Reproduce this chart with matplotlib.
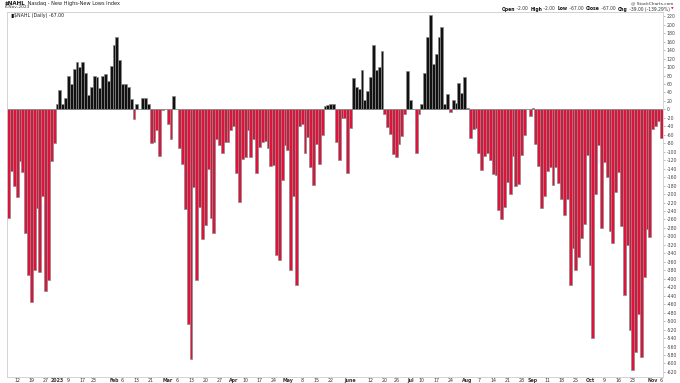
import numpy as np
import pandas as pd
import matplotlib
matplotlib.use("Agg")
import matplotlib.pyplot as plt

# ---- data -------------------------------------------------------------
start_date = "2022-12-07"
end_date = "2023-11-06"
holidays = ["2022-12-26", "2023-01-02", "2023-01-16", "2023-02-20", "2023-04-07",
            "2023-05-29", "2023-06-19", "2023-07-04", "2023-09-04"]

nahl_values = [
    -256, -145, -180, -207, -123, -148, -293, -390, -455, -379,
    -234, -385, -205, -430, -402, -121, -80, 12, 45, 13,
    27, 78, 61, 95, 112, 100, 112, 86, 35, 54,
    78, 76, 51, 78, 84, 68, 102, 151, 170, 117,
    59, 59, 52, 25, -22, 12, 2, 27, 27, 12,
    -80, -77, -49, -109, -2, 2, -34, -69, 31, 0,
    -92, -130, -236, -508, -590, -184, -402, -230, -305, -273,
    -141, -256, -291, -70, -84, -103, -77, -78, -49, -39,
    -151, -219, -116, -113, -48, -112, -70, -151, -90, -78,
    -74, -91, -133, -131, -345, -355, -166, -84, -95, -379,
    -205, -414, -39, -34, -102, -66, -137, -178, -82, -130,
    -61, 8, 10, 12, 13, -78, -120, -20, -20, -151,
    -45, 74, 52, 47, 92, 23, 43, 76, 152, 92,
    100, 137, -10, -41, -59, -105, -112, -82, -62, -12,
    90, 23, 2, -104, -12, 13, 86, 172, 223, 107,
    131, 170, 194, 12, 37, -5, 23, 16, 62, 39,
    77, 4, -68, -47, -43, -102, -142, -109, -102, -119,
    -152, -156, -238, -258, -230, -172, -199, -109, -180, -177,
    -107, -61, 2, -16, 4, -82, -133, -234, -205, -145,
    -135, -178, -135, -174, -212, -250, -211, -414, -327, -380,
    -348, -303, -270, -108, -367, -539, -199, -84, -281, -125,
    -160, -288, -316, -195, -147, -275, -439, -320, -520, -616,
    -574, -483, -584, -395, -283, -301, -47, -40, -28, -67,
]

tick_dates = ["2022-12-12", "2022-12-19", "2022-12-27", "2023-01-03", "2023-01-09",
              "2023-01-17", "2023-01-23", "2023-02-01", "2023-02-06", "2023-02-13",
              "2023-02-21", "2023-03-01", "2023-03-06", "2023-03-13", "2023-03-20",
              "2023-03-27", "2023-04-03", "2023-04-10", "2023-04-17", "2023-04-24",
              "2023-05-01", "2023-05-08", "2023-05-15", "2023-05-22", "2023-06-01",
              "2023-06-12", "2023-06-20", "2023-06-26", "2023-07-03", "2023-07-10",
              "2023-07-17", "2023-07-24", "2023-08-01", "2023-08-07", "2023-08-14",
              "2023-08-21", "2023-08-28", "2023-09-01", "2023-09-11", "2023-09-18",
              "2023-09-25", "2023-10-02", "2023-10-09", "2023-10-16", "2023-10-23",
              "2023-11-01", "2023-11-06"]
tick_labels = ["12", "19", "27", "2023", "9", "17", "23", "Feb", "6", "13", "21",
               "Mar", "6", "13", "20", "27", "Apr", "10", "17", "24", "May", "8",
               "15", "22", "June", "12", "20", "26", "Jul", "10", "17", "24", "Aug",
               "7", "14", "21", "28", "Sep", "11", "18", "25", "Oct", "9", "16", "23",
               "Nov", "6"]
bold_labels = {"2023", "Feb", "Mar", "Apr", "May", "June", "Jul", "Aug", "Sep", "Oct", "Nov"}

y_ticks = list(range(-620, 221, 20))

# ---- build ----------------------------------------------------------------
bday = pd.offsets.CustomBusinessDay(holidays=holidays)
dates = pd.date_range(start_date, end_date, freq=bday)
vals = np.array(nahl_values[:len(dates)], dtype=float)
x = np.arange(len(vals))

RED = "#DC143C"
colors = [RED if v < 0 else "#111111" for v in vals]

fig = plt.figure(figsize=(6.8, 3.83), dpi=100)
ax = fig.add_axes([7 / 680, 1 - 377 / 383, 656 / 680, (377 - 12) / 383])
ax.bar(x, vals, width=1.0, color=colors, edgecolor="#8a8a8a", linewidth=0.5)
ax.axhline(0, color="#999999", linewidth=0.4, zorder=0)

ax.set_xlim(-0.55, len(vals) - 0.4)
ax.set_ylim(-632, 230)

pos = {d: i for i, d in enumerate(dates.strftime("%Y-%m-%d"))}
tx = [pos[d] for d in tick_dates]
ax.set_xticks(tx)
ax.set_xticklabels(tick_labels, fontsize=3.4, color="#333333")
for lab in ax.get_xticklabels():
    if lab.get_text() in bold_labels:
        lab.set_fontweight("bold")
ax.tick_params(axis="x", length=0, pad=1.0)

ax.yaxis.tick_right()
ax.set_yticks(y_ticks)
ax.set_yticklabels([str(v) for v in y_ticks], fontsize=3.3, color="#444444")
ax.tick_params(axis="y", length=1.5, width=0.4, color="#888888", pad=1.2)

for s in ["left", "right", "top", "bottom"]:
    ax.spines[s].set_color("#cccccc")
    ax.spines[s].set_linewidth(0.6)

# ---- header texts -------------------------------------------------------
fs = 3.6
t = fig.text(5 / 680, 1 - 3 / 383, "$NAHL", fontsize=fs + 0.4, fontweight="bold",
             va="center", ha="left", color="#111111")
ax.annotate(" Nasdaq - New Highs-New Lows Index", xy=(1, 0.5), xycoords=t,
            va="center", ha="left", fontsize=fs, color="#222222")
fig.text(5 / 680, 1 - 7 / 383, "6-Nov-2023", fontsize=fs - 0.4, va="center",
         ha="left", color="#333333")
fig.text(9 / 680, 1 - 15.5 / 383, "\u2590\u258c", fontsize=fs - 0.6, va="center",
         ha="left", color="#111111")
fig.text(14 / 680, 1 - 15.5 / 383, "$NAHL (Daily) -67.00", fontsize=fs - 0.2,
         va="center", ha="left", color="#222222")

fig.text(673 / 680, 1 - 3.5 / 383, "@ StockCharts.com", fontsize=fs - 0.4,
         va="center", ha="right", color="#333333")

# stats line, chained right-to-left so that it ends at the right margin
hfs = 3.25
parts = [("Open", True), (" -2.00  ", False), ("High", True), (" -2.00  ", False),
         ("Low", True), (" -67.00  ", False), ("Close", True), (" -67.00  ", False),
         ("Chg", True), (" -39.00 (-139.29%) ", False)]
prev = fig.text(674 / 680, 1 - 9 / 383, "\u25bc", fontsize=hfs - 0.8,
                va="center", ha="right", color=RED)
for s, b in reversed(parts):
    prev = ax.annotate(s, xy=(0, 0.5), xycoords=prev, va="center", ha="right",
                       fontsize=hfs, fontweight="bold" if b else "normal",
                       color="#111111" if b else "#333333")

fig.savefig("out.png", dpi=100)
